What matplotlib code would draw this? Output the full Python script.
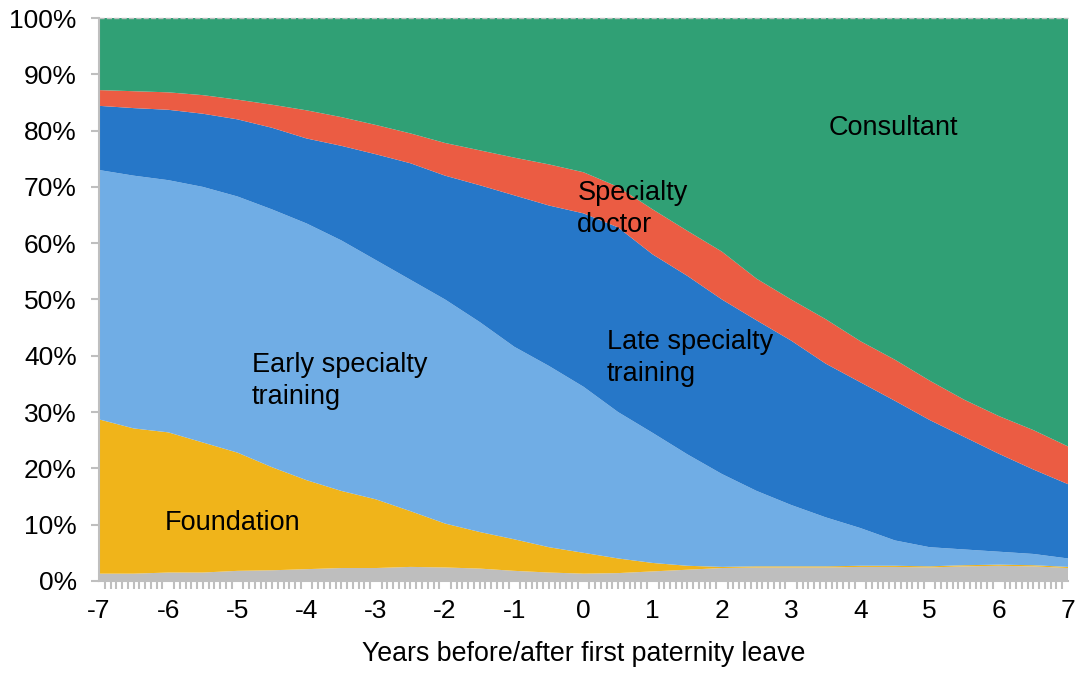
import numpy as np
import matplotlib.pyplot as plt
from matplotlib.ticker import MultipleLocator, FuncFormatter

plt.rcParams['font.family'] = ['Liberation Sans', 'DejaVu Sans']
plt.rcParams['axes.unicode_minus'] = False

# === Data (cumulative tops of each band, % of doctors, read every half year) ===
years = np.arange(-7, 7.01, 0.5)

other_top = [1.3, 1.3, 1.5, 1.5, 1.8, 1.9, 2.1, 2.3, 2.3, 2.5, 2.4, 2.2, 1.8, 1.5, 1.3,
             1.4, 1.7, 2.0, 2.3, 2.4, 2.4, 2.4, 2.5, 2.5, 2.4, 2.6, 2.7, 2.6, 2.3]
foundation_top = [28.7, 27.1, 26.4, 24.6, 22.8, 20.2, 17.9, 16.0, 14.5, 12.4, 10.2, 8.7, 7.4,
                  6.0, 5.0, 4.0, 3.2, 2.7, 2.5, 2.6, 2.6, 2.6, 2.7, 2.7, 2.6, 2.8, 2.9, 2.8, 2.5]
early_top = [73.0, 72.0, 71.2, 70.0, 68.3, 66.0, 63.5, 60.5, 57.0, 53.5, 50.0, 46.0, 41.6,
             38.2, 34.5, 30.0, 26.3, 22.5, 19.0, 16.0, 13.5, 11.3, 9.4, 7.2, 6.0, 5.6, 5.2, 4.8, 4.0]
late_top = [84.4, 84.0, 83.7, 83.0, 82.0, 80.5, 78.6, 77.3, 75.8, 74.2, 72.0, 70.3, 68.5,
            66.7, 65.3, 62.8, 58.0, 54.2, 50.0, 46.3, 42.7, 38.6, 35.3, 32.0, 28.6, 25.6, 22.6, 19.8, 17.2]
sdoc_top = [87.2, 87.0, 86.8, 86.3, 85.5, 84.6, 83.6, 82.4, 81.0, 79.5, 77.8, 76.5, 75.2,
            74.0, 72.6, 70.0, 66.0, 62.2, 58.5, 53.7, 50.0, 46.5, 42.6, 39.3, 35.6, 32.2, 29.3, 26.8, 23.9]

tops = np.vstack([other_top, foundation_top, early_top, late_top, sdoc_top,
                  np.full(len(years), 100.0)])
shares = np.diff(np.vstack([np.zeros(len(years)), tops]), axis=0)

colors = ['#BEBEBE', '#F0B41A', '#70ADE5', '#2677C8', '#EB5C43', '#30A075']

# === Plot ===
fig = plt.figure(figsize=(10.79, 6.75), dpi=100)
ax = fig.add_axes([0.0918, 0.1393, 0.898, 0.834])

ax.stackplot(years, shares, colors=colors, linewidth=0)

ax.set_xlim(-7, 7)
ax.set_ylim(0, 100)
ax.xaxis.set_major_locator(MultipleLocator(1))
ax.xaxis.set_minor_locator(MultipleLocator(1 / 12))
ax.yaxis.set_major_locator(MultipleLocator(10))
ax.yaxis.set_major_formatter(FuncFormatter(lambda v, p: f'{v:.0f}%'))

for s in ['top', 'right']:
    ax.spines[s].set_visible(False)
for s in ['left', 'bottom']:
    ax.spines[s].set_color('#BFBFBF')
    ax.spines[s].set_linewidth(1.5)
ax.axhline(100, color='#BFBFBF', linestyle='--', linewidth=1, clip_on=False)

ax.tick_params(axis='both', which='major', labelsize=19, color='#BFBFBF', width=1.5, length=6)
ax.tick_params(axis='y', which='major', pad=10)
ax.tick_params(axis='x', which='major', length=0, pad=13)
ax.tick_params(axis='x', which='minor', color='#BFBFBF', width=1.5, length=6)

ax.set_xlabel('Years before/after first paternity leave', fontsize=19.3, labelpad=13)

# --- Band labels ---
lab = dict(fontsize=19.5, linespacing=1.3, va='center')
ax.text(4.47, 80.5, 'Consultant', ha='center', **lab)
ax.text(-0.09, 66.0, 'Specialty\ndoctor', ha='left', **lab)
ax.text(0.34, 39.6, 'Late specialty\ntraining', ha='left', **lab)
ax.text(-4.79, 35.5, 'Early specialty\ntraining', ha='left', **lab)
ax.text(-6.05, 10.3, 'Foundation', ha='left', **lab)

plt.savefig('out.png', dpi=100)
